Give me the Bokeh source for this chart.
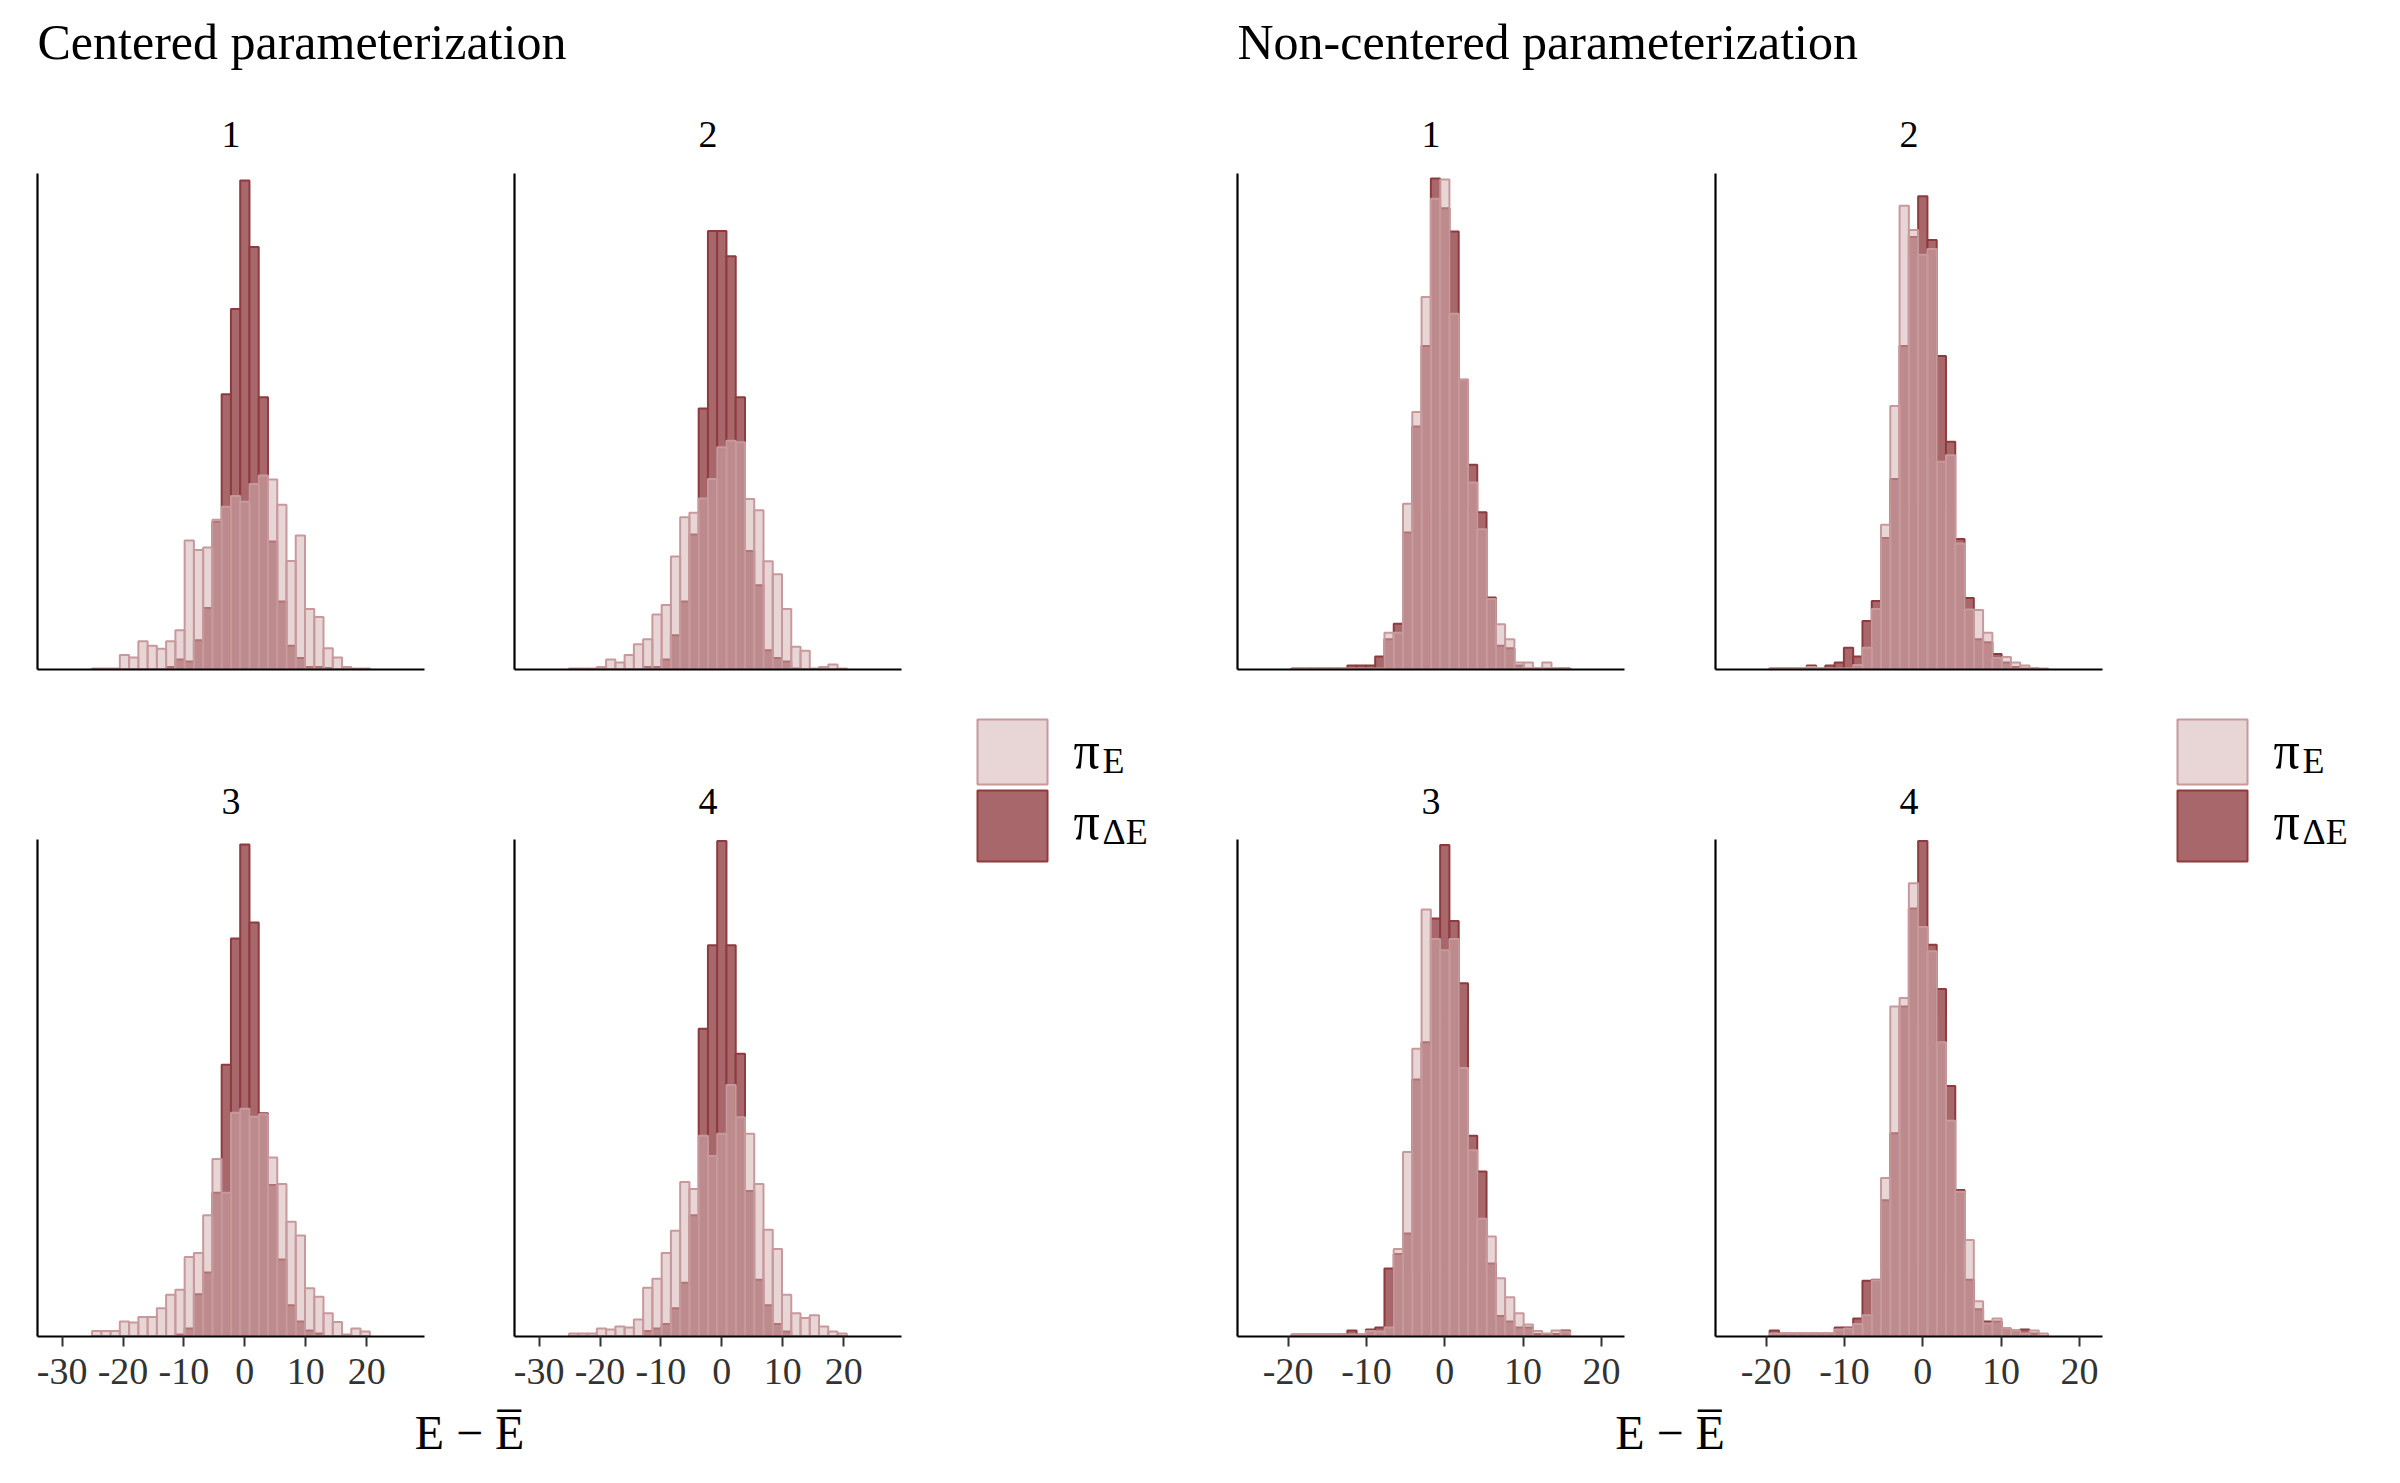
import numpy as np
from bokeh.plotting import figure
from bokeh.layouts import row, column
from bokeh.models import Range1d, FixedTicker, ColumnDataSource
from bokeh.core.properties import value
from bokeh.embed import file_html
from bokeh.resources import INLINE

# ------------------------------------------------------------------ data
bin_index = list(range(-16, 14))          # bins centred on k * binwidth
binwidth_centered = 1.52
binwidth_noncentered = 1.185
chains = ["1", "2", "3", "4"]
ticks_centered = [-30, -20, -10, 0, 10, 20]
ticks_noncentered = [-20, -10, 0, 10, 20]
group_titles = ["Centered parameterization", "Non-centered parameterization"]
axis_title = "E \u2212 E\u0305"
legend_symbol = "\u03c0"
legend_subscripts = ["E", "\u0394E"]

# Centered parameterization (heights in % of panel height)
cen1_E = [0.2, 0.2, 0.2, 2.9, 2.4, 5.7, 4.8, 4.2, 5.7, 7.9, 26.0, 24.1, 24.6, 30.2, 32.8,
          35.0, 33.8, 37.4, 39.1, 38.3, 33.2, 21.9, 27.0, 12.2, 10.6, 4.3, 2.4, 0.5, 0.2, 0.2]
cen1_dE = [0, 0, 0, 0, 0, 0, 0, 0, 0.5, 2.0, 1.6, 5.9, 12.4, 29.8, 55.5,
           72.7, 98.6, 85.2, 54.9, 25.8, 13.7, 4.8, 2.3, 0.5, 0.5, 0.3, 0, 0, 0, 0]
cen2_E = [0.2, 0.2, 0.2, 0.5, 2.0, 1.4, 2.9, 5.1, 6.1, 11.1, 13.0, 22.8, 30.7, 31.6, 34.5,
          38.4, 44.8, 46.1, 45.8, 34.4, 32.1, 21.8, 19.2, 12.2, 4.6, 3.8, 0.2, 0.5, 1.0, 0.2]
cen2_dE = [0, 0, 0, 0, 0, 0, 0, 0, 0.5, 0.5, 2.0, 6.9, 13.7, 27.2, 52.6,
           88.4, 88.4, 83.3, 54.9, 23.9, 17.0, 3.9, 2.3, 1.6, 0.2, 0, 0, 0, 0, 0]
cen3_E = [1.1, 1.1, 1.1, 3.0, 2.8, 3.9, 3.9, 5.7, 8.4, 9.4, 16.0, 16.8, 24.4, 35.7, 28.9,
          45.0, 45.8, 44.2, 44.7, 36.0, 30.7, 23.1, 20.3, 9.7, 8.0, 4.7, 2.9, 0.4, 1.6, 1.0]
cen3_dE = [0, 0, 0, 0, 0, 0, 0, 0, 0, 0.4, 1.6, 8.5, 12.9, 28.9, 54.7,
           80.1, 99.0, 83.3, 44.9, 30.5, 15.5, 6.3, 3.0, 1.2, 0.6, 0, 0, 0, 0, 0]
cen4_E = [0.6, 0.6, 0.6, 1.6, 1.4, 2.0, 1.8, 3.4, 9.8, 11.6, 16.8, 21.3, 31.1, 29.7, 40.4,
          36.3, 40.8, 50.6, 44.1, 40.8, 30.7, 21.5, 17.6, 8.4, 4.7, 3.7, 4.3, 2.0, 1.0, 0.6]
cen4_dE = [0, 0, 0, 0, 0, 0, 0, 0, 1.1, 1.6, 2.5, 5.7, 10.8, 24.4, 61.9,
           78.7, 99.7, 78.7, 56.9, 29.3, 11.4, 6.3, 2.5, 1.0, 0, 0, 0, 0, 0, 0]

# Non-centered parameterization
ncp1_E = [0.2, 0.2, 0.2, 0.2, 0.2, 0.2, 0.2, 0.2, 0.2, 0.2, 7.4, 7.4, 33.4, 51.9, 75.1,
          94.9, 98.8, 71.7, 58.4, 37.7, 28.3, 14.2, 9.1, 6.1, 1.4, 1.4, 0.2, 1.4, 0.2, 0.2]
ncp1_dE = [0.2, 0.2, 0.2, 0.2, 0.2, 0.2, 0.8, 0.8, 0.8, 2.6, 6.1, 9.2, 27.6, 49.0, 65.2,
           99.0, 93.0, 88.3, 58.4, 41.3, 31.7, 14.5, 4.8, 4.3, 0.8, 0.2, 0.2, 0.2, 0.2, 0.2]
ncp2_E = [0.2, 0.2, 0.2, 0.2, 0.5, 0.2, 0.2, 0.2, 0.2, 0.9, 4.4, 12.2, 29.2, 53.1, 93.5,
          88.6, 83.6, 84.8, 41.9, 43.2, 25.4, 12.1, 12.0, 7.4, 2.3, 2.5, 1.4, 0.8, 0.2, 0.2]
ncp2_dE = [0.2, 0.2, 0.2, 0.2, 0.8, 0.2, 0.8, 1.4, 4.4, 2.6, 9.8, 13.8, 26.5, 38.4, 65.2,
           87.2, 95.4, 86.6, 63.2, 45.9, 26.3, 14.4, 6.1, 5.5, 3.1, 1.4, 0.5, 0.2, 0.2, 0]
ncp3_E = [0.4, 0.4, 0.4, 0.4, 0.4, 0.4, 0.4, 0.4, 1.1, 1.0, 1.8, 17.6, 37.1, 57.9, 85.9,
          80.0, 77.7, 80.0, 54.0, 37.5, 23.7, 20.1, 11.7, 7.9, 4.7, 2.4, 1.1, 0.6, 1.2, 1.0]
ncp3_dE = [0.4, 0.4, 0.4, 0.4, 0.4, 0.4, 1.2, 0.4, 1.4, 1.8, 13.7, 16.6, 20.7, 51.7, 59.2,
           84.1, 98.9, 83.6, 71.1, 40.4, 33.2, 14.7, 4.1, 3.0, 1.8, 1.8, 0.5, 0.5, 0.5, 1.2]
ncp4_E = [0.6, 0.6, 0.6, 0.6, 0.6, 0.6, 0.6, 1.4, 1.6, 2.5, 4.3, 11.3, 31.9, 66.4, 68.1,
          91.2, 82.4, 77.5, 59.2, 43.4, 29.1, 19.4, 7.1, 2.6, 3.6, 1.6, 1.2, 0.6, 1.2, 0.6]
ncp4_dE = [1.2, 0.6, 0.6, 0.6, 0.6, 0.6, 0.6, 1.8, 1.8, 3.6, 11.2, 11.4, 27.4, 40.9, 66.4,
           86.1, 99.7, 78.8, 69.9, 50.4, 29.5, 11.4, 5.5, 3.0, 3.0, 1.6, 1.2, 1.4, 0.6, 0]

# ------------------------------------------------------------------ style
FONT = "Liberation Serif"
DARK_FILL, DARK_LINE = "#A8676A", "#8E3B3F"
LIGHT_FILL, LIGHT_LINE, LIGHT_ALPHA = "#D2ADAF", "#C8999B", 0.5
TICK_COLOR = "#333333"

# page geometry (pixels)
PAGE_H = 1483
TOP_BAND = (0, 173)
TOP_FIG_H, TOP_FRAME_H = 547, 496
MID_BAND = (720, 839)
BOT_FIG_H, BOT_FRAME_H = 566, 497
FOOT_BAND = (1405, 1483)


def style_axes(p, ticks):
    for ax in p.yaxis:
        ax.ticker = FixedTicker(ticks=[])
        ax.axis_line_width = 2.2
        ax.axis_line_color = "black"
        ax.major_tick_line_color = None
        ax.minor_tick_line_color = None
    for ax in p.xaxis:
        ax.ticker = FixedTicker(ticks=ticks)
        ax.major_label_overrides = {t: str(t) for t in ticks}
        ax.axis_line_width = 2.2
        ax.axis_line_color = "black"
        ax.major_tick_line_width = 2
        ax.major_tick_line_color = TICK_COLOR
        ax.major_tick_out = 10
        ax.major_tick_in = 0
        ax.minor_tick_line_color = None
        ax.major_label_text_font = FONT
        ax.major_label_text_font_size = "38px"
        ax.major_label_text_color = TICK_COLOR
        ax.major_label_standoff = 12


def make_panel(E, dE, bw, xr, yr, fig_w, b_left, b_right, fig_h, ticks):
    b_bottom = fig_h - (TOP_FRAME_H if fig_h == TOP_FIG_H else BOT_FRAME_H)
    p = figure(width=fig_w, height=fig_h, x_range=xr, y_range=yr,
               output_backend="svg", toolbar_location=None,
               min_border_left=b_left, min_border_right=b_right,
               min_border_top=0, min_border_bottom=b_bottom)
    p.grid.visible = False
    p.outline_line_color = None
    p.background_fill_color = "white"
    p.border_fill_color = "white"
    centers = np.array(bin_index) * bw
    src = ColumnDataSource(dict(left=centers - bw / 2, right=centers + bw / 2,
                                E=E, dE=dE))
    p.quad(left="left", right="right", bottom=0, top="dE", source=src,
           fill_color=DARK_FILL, line_color=DARK_LINE, line_width=2)
    p.quad(left="left", right="right", bottom=0, top="E", source=src,
           fill_color=LIGHT_FILL, fill_alpha=LIGHT_ALPHA,
           line_color=LIGHT_LINE, line_width=2)
    style_axes(p, ticks)
    return p


def make_band(x0, x1, y0, y1):
    p = figure(width=x1 - x0, height=y1 - y0,
               x_range=Range1d(x0, x1), y_range=Range1d(y1, y0),
               output_backend="svg", toolbar_location=None, min_border=0,
               x_axis_location=None, y_axis_location=None)
    p.grid.visible = False
    p.outline_line_color = None
    return p


def make_group(x0, panels_E, panels_dE, bw, xr, ticks, title, widths, borders):
    yr = Range1d(0, 100)
    # frames of the two columns (page x)
    fl1 = x0 + borders[0][0]
    fr1 = fl1 + (widths[0] - borders[0][0] - borders[0][1])
    fl2 = x0 + widths[0] + borders[1][0]
    fr2 = fl2 + (widths[1] - borders[1][0] - borders[1][1])
    cx = [(fl1 + fr1) / 2, (fl2 + fr2) / 2]
    gw = widths[0] + widths[1]

    top = make_band(x0, x0 + gw, *TOP_BAND)
    top.text(x=[fl1], y=[41], text=[title], text_font=value(FONT),
             text_font_size="50px", text_align="left",
             text_baseline="alphabetic", text_color="black")
    top.text(x=cx, y=[134, 134], text=chains[:2], text_font=value(FONT),
             text_font_size="38px", text_align="center",
             text_baseline="alphabetic", text_color="black")

    mid = make_band(x0, x0 + gw, *MID_BAND)
    mid.text(x=cx, y=[801, 801], text=chains[2:], text_font=value(FONT),
             text_font_size="38px", text_align="center",
             text_baseline="alphabetic", text_color="black")

    foot = make_band(x0, x0 + gw, *FOOT_BAND)
    foot.text(x=[(fl1 + fr2) / 2], y=[1432], text=[axis_title],
              text_font=value(FONT), text_font_size="48px",
              text_align="center", text_baseline="alphabetic",
              text_color="black")

    figs = []
    for i in range(4):
        c = i % 2
        fh = TOP_FIG_H if i < 2 else BOT_FIG_H
        tk = [] if i < 2 else ticks
        figs.append(make_panel(panels_E[i], panels_dE[i], bw, xr, yr,
                               widths[c], borders[c][0], borders[c][1], fh, tk))
    return column(top, row(figs[0], figs[1]), mid, row(figs[2], figs[3]), foot)


def make_legend(x0, x1):
    p = make_band(x0, x1, 0, PAGE_H)
    kx0 = x0 + 37
    p.quad(left=[kx0], right=[kx0 + 70], top=[719], bottom=[784],
           fill_color=LIGHT_FILL, fill_alpha=LIGHT_ALPHA,
           line_color=LIGHT_LINE, line_width=2)
    p.quad(left=[kx0], right=[kx0 + 70], top=[790], bottom=[861],
           fill_color=DARK_FILL, line_color=DARK_LINE, line_width=2)
    p.text(x=[kx0 + 96, kx0 + 96], y=[750, 821], text=[legend_symbol] * 2,
           text_font=value(FONT), text_font_size="52px", text_align="left",
           text_baseline="alphabetic", text_color="black")
    p.text(x=[kx0 + 125, kx0 + 125], y=[760, 831], text=legend_subscripts,
           text_font=value(FONT), text_font_size="36px", text_align="left",
           text_baseline="alphabetic", text_color="black")
    return p


left = make_group(0, [cen1_E, cen2_E, cen3_E, cen4_E],
                  [cen1_dE, cen2_dE, cen3_dE, cen4_dE],
                  binwidth_centered, Range1d(-34.04, 29.5), ticks_centered,
                  group_titles[0], widths=(470, 470), borders=((37, 46), (44, 39)))
right = make_group(1190, [ncp1_E, ncp2_E, ncp3_E, ncp4_E],
                   [ncp1_dE, ncp2_dE, ncp3_dE, ncp4_dE],
                   binwidth_noncentered, Range1d(-26.47, 22.95), ticks_noncentered,
                   group_titles[1], widths=(480, 470), borders=((47, 46), (45, 38)))

page = row(left, make_legend(940, 1190), right, make_legend(2140, 2400))

open("out.html", "w").write(file_html(page, INLINE, title="Energy histograms"))
